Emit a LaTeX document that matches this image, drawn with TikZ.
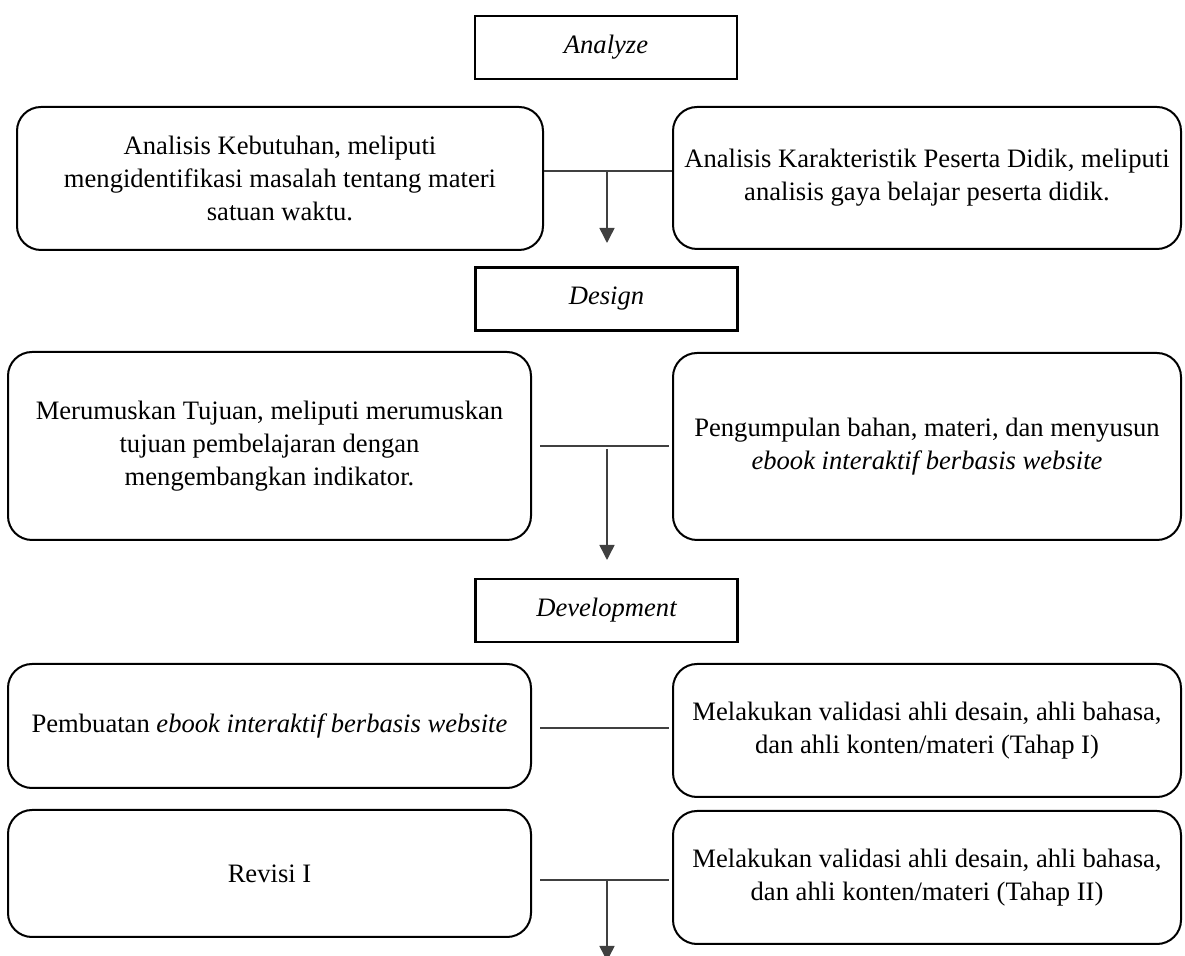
\documentclass[tikz,border=0pt]{standalone}
\usepackage{fontspec}
\setmainfont{Liberation Serif}
\usetikzlibrary{arrows.meta}
\begin{document}
\begin{tikzpicture}[x=0.5pt,y=-0.5pt,
  phase/.style={draw=black, line width=1.4pt, inner sep=0pt,
    font=\fontsize{13.3}{16.5}\selectfont\itshape,
    minimum width=131pt, minimum height=31.5pt},
  stepbox/.style={draw=black, line width=1pt, rounded corners=12pt,
    inner sep=0pt, align=center, font=\fontsize{13.3}{16.5}\selectfont},
  link/.style={draw=black!75, line width=0.75pt},
  arr/.style={link, -{Triangle[length=7.5pt,width=7.5pt]}}]
\useasboundingbox (0,0) rectangle (1185,956);

\node[phase] (ana) at (606,47.5) {Analyze};
\node[stepbox, minimum width=263pt, minimum height=71.5pt] (b1) at (280,178.5)
  {Analisis Kebutuhan, meliputi\\mengidentifikasi masalah tentang materi\\satuan waktu.};
\node[stepbox, minimum width=254pt, minimum height=71pt] (b2) at (927,178)
  {Analisis Karakteristik Peserta Didik, meliputi\\analisis gaya belajar peserta didik.};

\node[phase] (des) at (606.5,299) {Design};
\node[stepbox, minimum width=261.5pt, minimum height=94pt] (b3) at (269.5,446)
  {Merumuskan Tujuan, meliputi merumuskan\\tujuan pembelajaran dengan\\mengembangkan indikator.};
\node[stepbox, minimum width=254pt, minimum height=93.5pt] (b4) at (927,446.5)
  {Pengumpulan bahan, materi, dan menyusun\\\textit{ebook interaktif berbasis website}};

\node[phase] (dev) at (606.5,610.5) {Development};
\node[stepbox, minimum width=261.5pt, minimum height=62pt] (b5) at (269.5,726)
  {Pembuatan \textit{ebook interaktif berbasis website}};
\node[stepbox, minimum width=254pt, minimum height=66.5pt] (b6) at (927,730.5)
  {Melakukan validasi ahli desain, ahli bahasa,\\dan ahli konten/materi (Tahap I)};
\node[stepbox, minimum width=261.5pt, minimum height=63.5pt] (b7) at (269.5,873.5)
  {Revisi I};
\node[stepbox, minimum width=254pt, minimum height=66.5pt] (b8) at (927,877.5)
  {Melakukan validasi ahli desain, ahli bahasa,\\dan ahli konten/materi (Tahap II)};

% junctions and arrow ends
\coordinate (j1) at (607,171);
\coordinate (t1) at (607,243);
\coordinate (j2) at (607,446);
\coordinate (s2) at (607,449);
\coordinate (t2) at (607,560);
\coordinate (j3) at (607,728);
\coordinate (j4) at (607,880);
\coordinate (t4) at (607,961);

\draw[link] (b1.east |- j1) -- (b2.west |- j1);
\draw[arr] (j1) -- (t1);

\draw[link] ([xshift=4pt]b3.east |- j2) -- ([xshift=-1.5pt]b4.west |- j2);
\draw[arr] (s2) -- (t2);

\draw[link] ([xshift=4pt]b5.east |- j3) -- ([xshift=-1.5pt]b6.west |- j3);

\draw[link] ([xshift=4pt]b7.east |- j4) -- ([xshift=-1.5pt]b8.west |- j4);
\draw[arr] (j4) -- (t4);
\end{tikzpicture}
\end{document}
